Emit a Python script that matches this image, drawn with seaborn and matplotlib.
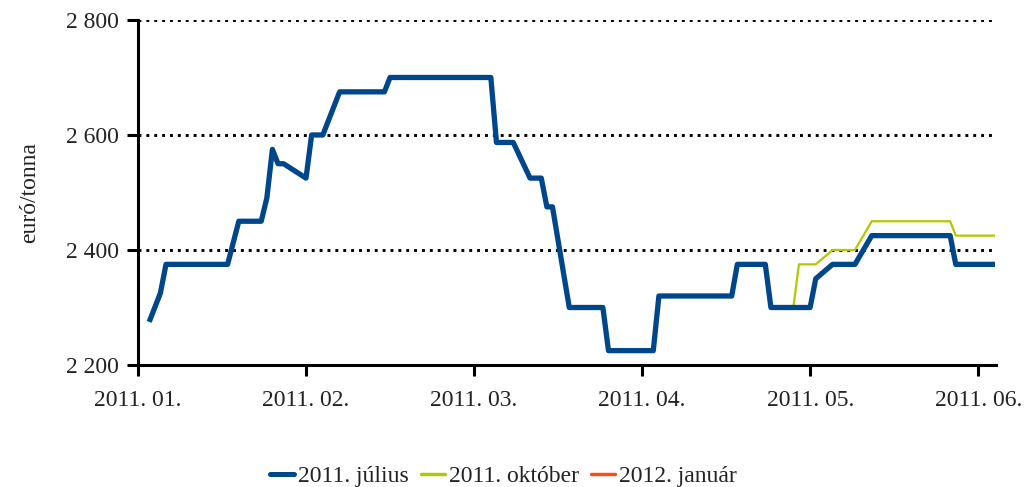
import matplotlib
matplotlib.use("Agg")
import matplotlib.pyplot as plt
from matplotlib.lines import Line2D
from matplotlib.ticker import FuncFormatter
import pandas as pd
import seaborn as sns

# x = napok a 2011. januári kezdettől (30 egység / hónap a tengelyen)
july_day = [2, 4, 5, 16, 18, 22, 23, 24, 25, 26, 30, 31, 33, 36, 44, 45, 63, 64, 67, 70, 72,
            73, 74, 77, 83, 84, 92, 93, 106, 107, 112, 113, 120, 121, 124, 128, 131, 145, 146, 153]
july_price = [2275, 2325, 2375, 2375, 2450, 2450, 2490, 2575, 2550, 2550, 2525, 2600, 2600, 2675,
              2675, 2700, 2700, 2587, 2587, 2525, 2525, 2475, 2475, 2300, 2300, 2225, 2225, 2320,
              2320, 2375, 2375, 2300, 2300, 2350, 2375, 2375, 2425, 2425, 2375, 2375]

oct_day = [117, 118, 121, 124, 128, 131, 145, 146, 153]
oct_price = [2300, 2375, 2375, 2400, 2400, 2450, 2450, 2425, 2425]

jan_day = []
jan_price = []

month_ticks = [0, 30, 60, 90, 120, 150]
month_labels = ['2011. 01.', '2011. 02.', '2011. 03.', '2011. 04.', '2011. 05.', '2011. 06.']

series_names = ['2011. július', '2011. október', '2012. január']
colors = ['#00468b', '#b2c800', '#ff4b1a']
widths = [3.8, 1.6, 1.6]

sns.set_style('white')
plt.rcParams['font.family'] = ['Liberation Serif', 'DejaVu Serif']
txt = '#222222'
fs = 17

fig = plt.figure(figsize=(10.32, 4.87), dpi=100)
ax = fig.add_axes([0.1337, 0.2505, 0.8315, 0.7085])

data = [(july_day, july_price), (oct_day, oct_price), (jan_day, jan_price)]
for (d, p), name, c, w in zip(data, series_names, colors, widths):
    if len(d) == 0:
        continue
    df = pd.DataFrame({'nap': d, 'ar': p})
    sns.lineplot(data=df, x='nap', y='ar', ax=ax, color=c, linewidth=w,
                 zorder=3 if w > 2 else 2, solid_joinstyle='round', solid_capstyle='butt')

ax.set_xlim(0, 153.2)
ax.set_ylim(2200, 2800)
ax.set_xticks(month_ticks)
ax.set_xticklabels(month_labels)
ax.set_yticks([2200, 2400, 2600, 2800])
ax.yaxis.set_major_formatter(FuncFormatter(lambda v, pos: f"{v:,.0f}".replace(',', ' ')))

for v in [2400, 2600, 2800]:
    ax.axhline(v, color='black', linewidth=2.1, linestyle=(0, (1, 1.7)), zorder=1)

for s in ['top', 'right']:
    ax.spines[s].set_visible(False)
for s in ['left', 'bottom']:
    ax.spines[s].set_color('black')
    ax.spines[s].set_linewidth(2.2)

ax.tick_params(axis='both', direction='out', length=8, width=2.2, color='black',
               labelsize=fs, labelcolor=txt, bottom=True, left=True)
ax.tick_params(axis='x', pad=10)
ax.tick_params(axis='y', pad=6)
ax.set_xlabel('')
ax.set_ylabel('euró/tonna', fontsize=fs, color=txt, labelpad=18)

handles = [Line2D([], [], color=c, linewidth=w) for c, w in zip(colors, [3.6, 2.5, 2.5])]
fig.legend(handles, series_names, loc='center', bbox_to_anchor=(0.488, 0.022), ncol=3,
           frameon=False, fontsize=fs, handlelength=1.0, handletextpad=0.2,
           columnspacing=0.5, labelcolor=txt)

fig.savefig('out.png', dpi=100)
